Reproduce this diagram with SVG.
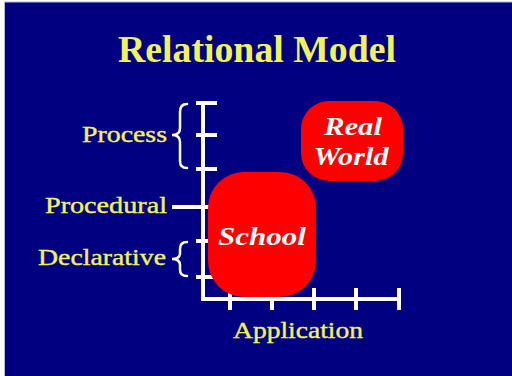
<svg xmlns="http://www.w3.org/2000/svg" width="512" height="376" viewBox="0 0 512 376">
<style>
.lbl{font-family:"Liberation Serif","Times New Roman",serif;fill:#F2F25A;stroke:#F2F25A;stroke-width:0.4;font-size:24px}
.blobtxt{font-family:"Liberation Serif","Times New Roman",serif;fill:#FFFFFF;font-size:25px;font-weight:bold;font-style:italic;text-anchor:middle}
.ax{stroke:#FFFFFF;stroke-width:4;fill:none}
.br{stroke:#FFFFFF;stroke-width:2.5;fill:none;stroke-linecap:round}
</style>
<rect x="0" y="0" width="512" height="376" fill="#FFFFFF"/>
<rect x="4.5" y="2" width="508" height="375" fill="#000080" stroke="#B8B8D8" stroke-width="1"/>
<text x="257" y="62" font-family="'Liberation Serif','Times New Roman',serif" font-size="37" font-weight="bold" fill="#F2F25A" text-anchor="middle" textLength="278" lengthAdjust="spacingAndGlyphs">Relational Model</text>
<g id="connectors">
<path class="ax" d="M203,102 V299 H400"/>
<path class="ax" d="M196,103 H217 M196,135 H217 M196,169 H217 M172,207 H217 M196,241 H217 M196,277 H217"/>
<path class="ax" d="M230,288 V310 M272,288 V310 M314,288 V310 M356,288 V310 M399,288 V310"/>
<path class="br" d="M187,104 Q180,104 180,112 L180,128 Q180,135 172,135 Q180,135 180,142 L180,161 Q180,168 187,168"/>
<path class="br" d="M187,242 Q180,242 180,249 L180,253 Q180,259 172,259 Q180,259 180,265 L180,270 Q180,276 187,276"/>
</g>
<g id="process"><text class="lbl" x="167" y="142" text-anchor="end" textLength="85" lengthAdjust="spacingAndGlyphs">Process</text></g>
<g id="procedural"><text class="lbl" x="167" y="213" text-anchor="end" textLength="122" lengthAdjust="spacingAndGlyphs">Procedural</text></g>
<g id="declarative"><text class="lbl" x="166" y="265" text-anchor="end" textLength="128" lengthAdjust="spacingAndGlyphs">Declarative</text></g>
<g id="application"><text class="lbl" x="233" y="338" textLength="130" lengthAdjust="spacingAndGlyphs">Application</text></g>
<g id="school">
<rect x="208" y="172" width="108" height="125" rx="36" ry="36" fill="#FF0000"/>
<text class="blobtxt" x="262" y="245" textLength="88" lengthAdjust="spacingAndGlyphs">School</text>
</g>
<g id="realworld">
<rect x="301" y="101" width="102" height="80" rx="28" ry="28" fill="#FF0000"/>
<text class="blobtxt" x="353" y="135" textLength="58" lengthAdjust="spacingAndGlyphs">Real</text>
<text class="blobtxt" x="351" y="165" textLength="75" lengthAdjust="spacingAndGlyphs">World</text>
</g>
</svg>
